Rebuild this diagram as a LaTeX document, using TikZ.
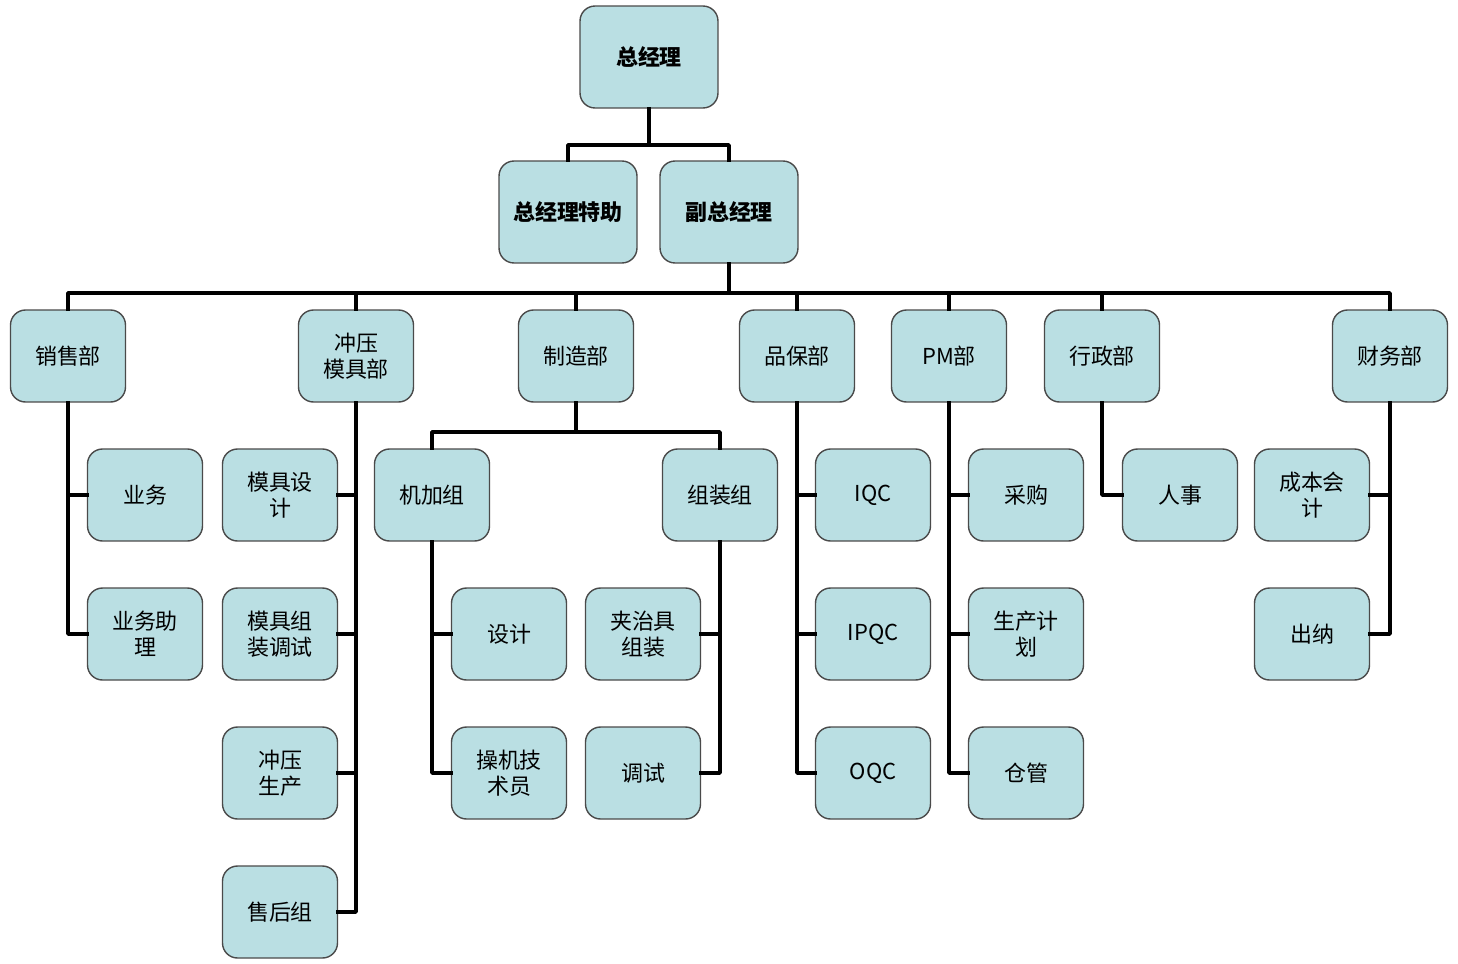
\documentclass[tikz,border=0pt]{standalone}
\usepackage{fontspec}
\setmainfont{Noto Sans CJK SC}
\definecolor{boxfill}{HTML}{BADFE3}
\definecolor{boxline}{HTML}{4A4A4A}
\begin{document}
\begin{tikzpicture}[line join = round, line cap = rect, x=0.02cm, y=-0.02cm, font=\fontsize{12.5}{15}\selectfont]
				\tikzset{unit/.style={draw=boxline, line width=0.8pt, fill=boxfill, rounded corners=0.3cm, minimum width=2.3cm, minimum height=1.84cm, align=center, inner sep=1pt},
				boss/.style={unit, minimum width=2.76cm, minimum height=2.04cm, font=\fontsize{12.5}{15}\selectfont\bfseries},
				link/.style={line width=2.1pt, black}}
				\useasboundingbox (0,0) rectangle (1458,964);
				% top
				\node[boss] (zjl) at (649,57) {总经理};
				\node[boss] (tz) at (568,212) {总经理特助};
				\node[boss] (fzjl) at (729,212) {副总经理};
				% departments
				\node[unit] (xs) at (68,356) {销售部};
				\node[unit] (cy) at (356,356) {冲压\\模具部};
				\node[unit] (zz) at (576,356) {制造部};
				\node[unit] (pb) at (797,356) {品保部};
				\node[unit] (pm) at (949,356) {PM部};
				\node[unit] (xz) at (1102,356) {行政部};
				\node[unit] (cw) at (1390,356) {财务部};
				% sections
				\node[unit] (yw) at (145,495) {业务};
				\node[unit] (ywzl) at (145,634) {业务助\\理};
				\node[unit] (mjsj) at (280,495) {模具设\\计};
				\node[unit] (mjzz) at (280,634) {模具组\\装调试};
				\node[unit] (cysc) at (280,773) {冲压\\生产};
				\node[unit] (shz) at (280,912) {售后组};
				\node[unit] (jjz) at (432,495) {机加组};
				\node[unit] (zzz) at (720,495) {组装组};
				\node[unit] (sj) at (509,634) {设计};
				\node[unit] (cj) at (509,773) {操机技\\术员};
				\node[unit] (jzj) at (643,634) {夹治具\\组装};
				\node[unit] (ts) at (643,773) {调试};
				\node[unit] (iqc) at (873,495) {IQC};
				\node[unit] (ipqc) at (873,634) {IPQC};
				\node[unit] (oqc) at (873,773) {OQC};
				\node[unit] (cg) at (1026,495) {采购};
				\node[unit] (scjh) at (1026,634) {生产计\\划};
				\node[unit] (cgg) at (1026,773) {仓管};
				\node[unit] (rs) at (1180,495) {人事};
				\node[unit] (cbkj) at (1312,495) {成本会\\计};
				\node[unit] (cn) at (1312,634) {出纳};
				% buses
				\path (649,145) coordinate (B1)
				(729,293) coordinate (B2)
				(576,432) coordinate (B3);
				\draw[link] (zjl.south) -- (B1) -| (tz.north);
				\draw[link] (B1) -| (fzjl.north);
				\draw[link] (fzjl.south) -- (B2);
				\foreach \d in {xs,cy,zz,pb,pm,xz,cw}
				\draw[link] (B2) -| (\d.north);
				\draw[link] (zz.south) -- (B3) -| (jjz.north);
				\draw[link] (B3) -| (zzz.north);
				% branches
				\foreach \p/\c in {xs/yw,xs/ywzl,cy/mjsj,cy/mjzz,cy/cysc,cy/shz,jjz/sj,jjz/cj,zzz/jzj,zzz/ts,pb/iqc,pb/ipqc,pb/oqc,pm/cg,pm/scjh,pm/cgg,xz/rs,cw/cbkj,cw/cn}
				\draw[link] (\p.south) |- (\c);
			\end{tikzpicture}
\end{document}
